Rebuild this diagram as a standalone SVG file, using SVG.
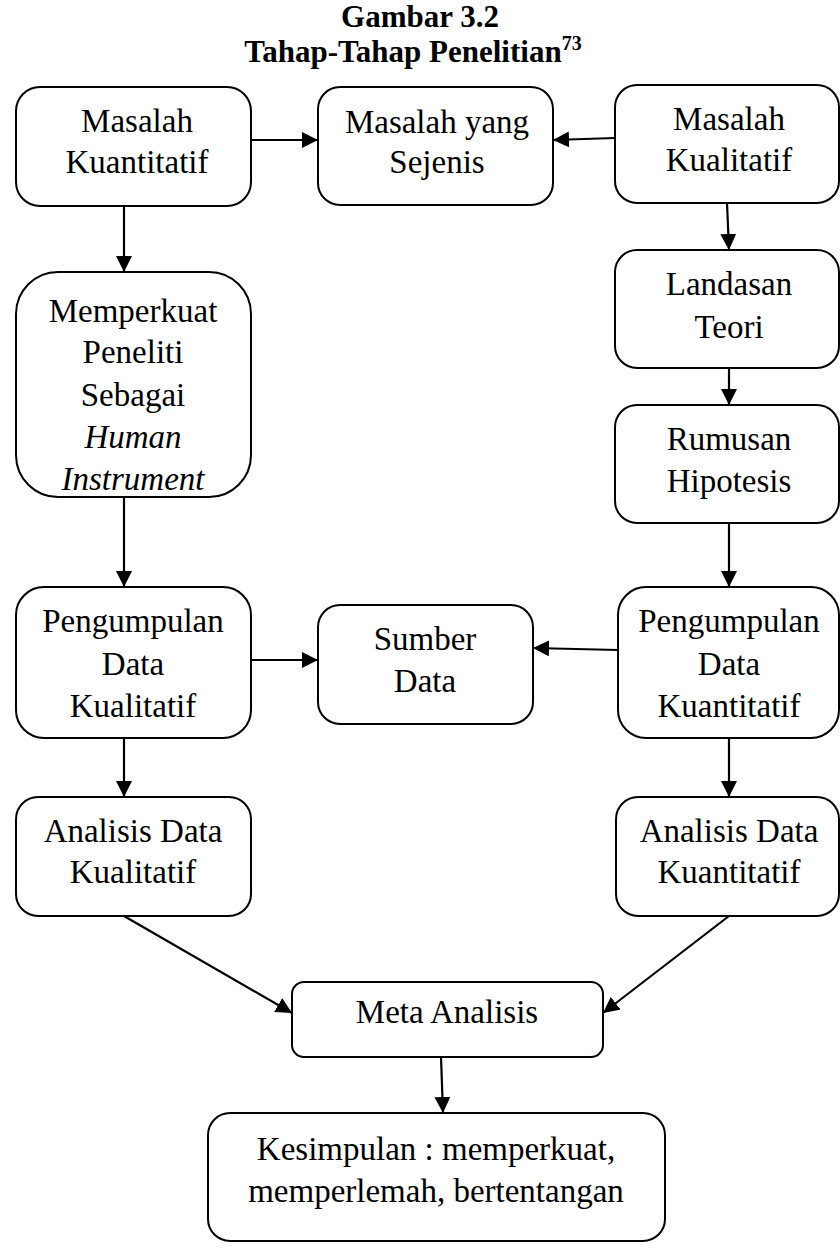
<svg xmlns="http://www.w3.org/2000/svg" width="840" height="1249" viewBox="0 0 840 1249">
  <style>
    .box { fill: #ffffff; stroke: #000000; stroke-width: 2; }
    .lbl { font-family: "Liberation Serif", "Times New Roman", serif; font-size: 33px; fill: #000000; text-anchor: middle; }
    .it { font-style: italic; }
    .title { font-family: "Liberation Serif", "Times New Roman", serif; font-size: 31px; font-weight: bold; fill: #000000; text-anchor: middle; }
    .conn { fill: none; stroke: #000000; stroke-width: 2.2; marker-end: url(#arrow); }
  </style>
  <defs>
    <marker id="arrow" markerUnits="userSpaceOnUse" markerWidth="17" markerHeight="16" refX="16" refY="8" orient="auto">
      <path d="M0,0 L16,8 L0,16 Z" fill="#000000"/>
    </marker>
  </defs>
  <rect width="840" height="1249" fill="#ffffff"/>

  <g id="title">
    <text class="title" x="420" y="27">Gambar 3.2</text>
    <text class="title" x="413" y="62">Tahap-Tahap Penelitian<tspan font-size="20" dy="-12">73</tspan></text>
  </g>

  <g id="connectors">
    <line class="conn" x1="251" y1="140" x2="318" y2="140"/>
    <line class="conn" x1="615" y1="138" x2="553" y2="140"/>
    <line class="conn" x1="124" y1="206" x2="124" y2="272"/>
    <line class="conn" x1="727" y1="203" x2="729" y2="250"/>
    <line class="conn" x1="729" y1="368" x2="729" y2="405"/>
    <line class="conn" x1="124" y1="497" x2="124" y2="587"/>
    <line class="conn" x1="729" y1="523" x2="729" y2="587"/>
    <line class="conn" x1="251" y1="660" x2="318" y2="660"/>
    <line class="conn" x1="618" y1="650" x2="533" y2="648"/>
    <line class="conn" x1="124" y1="738" x2="124" y2="797"/>
    <line class="conn" x1="729" y1="738" x2="729" y2="797"/>
    <line class="conn" x1="124" y1="916" x2="292" y2="1013"/>
    <line class="conn" x1="729" y1="916" x2="603" y2="1013"/>
    <line class="conn" x1="441" y1="1057" x2="443" y2="1113"/>
  </g>

  <g id="masalah-kuantitatif">
    <rect class="box" x="16" y="87" width="235" height="119" rx="24"/>
    <text class="lbl" x="137" y="132">Masalah</text>
    <text class="lbl" x="137" y="173">Kuantitatif</text>
  </g>

  <g id="masalah-sejenis">
    <rect class="box" x="318" y="87" width="235" height="118" rx="22"/>
    <text class="lbl" x="437" y="133">Masalah yang</text>
    <text class="lbl" x="437" y="173">Sejenis</text>
  </g>

  <g id="masalah-kualitatif">
    <rect class="box" x="615" y="85" width="224" height="118" rx="22"/>
    <text class="lbl" x="729" y="130">Masalah</text>
    <text class="lbl" x="729" y="171">Kualitatif</text>
  </g>

  <g id="memperkuat-peneliti">
    <rect class="box" x="16" y="272" width="235" height="225" rx="42"/>
    <text class="lbl" x="133" y="322">Memperkuat</text>
    <text class="lbl" x="133" y="363">Peneliti</text>
    <text class="lbl" x="133" y="406">Sebagai</text>
    <text class="lbl it" x="133" y="448">Human</text>
    <text class="lbl it" x="133" y="490">Instrument</text>
  </g>

  <g id="landasan-teori">
    <rect class="box" x="615" y="250" width="224" height="118" rx="22"/>
    <text class="lbl" x="729" y="295">Landasan</text>
    <text class="lbl" x="729" y="338">Teori</text>
  </g>

  <g id="rumusan-hipotesis">
    <rect class="box" x="615" y="405" width="224" height="118" rx="22"/>
    <text class="lbl" x="729" y="450">Rumusan</text>
    <text class="lbl" x="729" y="492">Hipotesis</text>
  </g>

  <g id="pengumpulan-kualitatif">
    <rect class="box" x="16" y="587" width="235" height="151" rx="28"/>
    <text class="lbl" x="133" y="632">Pengumpulan</text>
    <text class="lbl" x="133" y="675">Data</text>
    <text class="lbl" x="133" y="717">Kualitatif</text>
  </g>

  <g id="sumber-data">
    <rect class="box" x="318" y="605" width="215" height="119" rx="22"/>
    <text class="lbl" x="425" y="650">Sumber</text>
    <text class="lbl" x="425" y="692">Data</text>
  </g>

  <g id="pengumpulan-kuantitatif">
    <rect class="box" x="618" y="587" width="221" height="151" rx="28"/>
    <text class="lbl" x="729" y="632">Pengumpulan</text>
    <text class="lbl" x="729" y="675">Data</text>
    <text class="lbl" x="729" y="717">Kuantitatif</text>
  </g>

  <g id="analisis-kualitatif">
    <rect class="box" x="16" y="797" width="235" height="119" rx="22"/>
    <text class="lbl" x="133" y="842">Analisis Data</text>
    <text class="lbl" x="133" y="883">Kualitatif</text>
  </g>

  <g id="analisis-kuantitatif">
    <rect class="box" x="616" y="797" width="223" height="119" rx="22"/>
    <text class="lbl" x="729" y="842">Analisis Data</text>
    <text class="lbl" x="729" y="883">Kuantitatif</text>
  </g>

  <g id="meta-analisis">
    <rect class="box" x="292" y="982" width="311" height="75" rx="12"/>
    <text class="lbl" x="447" y="1023">Meta Analisis</text>
  </g>

  <g id="kesimpulan">
    <rect class="box" x="208" y="1113" width="457" height="128" rx="22"/>
    <text class="lbl" x="436" y="1160">Kesimpulan : memperkuat,</text>
    <text class="lbl" x="436" y="1202">memperlemah, bertentangan</text>
  </g>
</svg>
